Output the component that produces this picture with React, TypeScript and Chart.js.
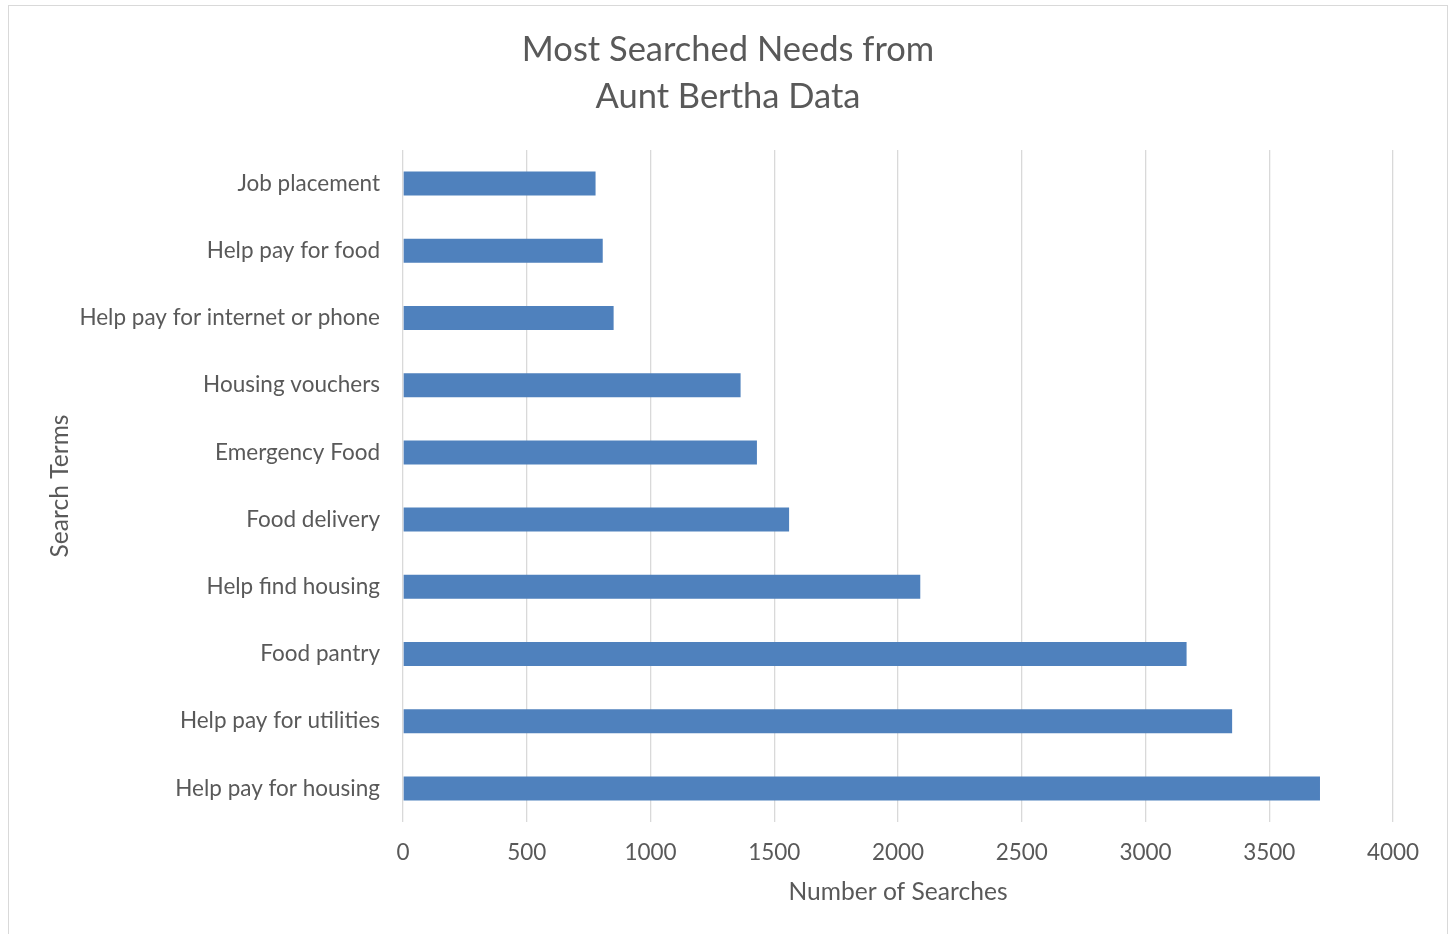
import React, { useEffect, useRef } from "react";
import { Chart, registerables } from "chart.js";

Chart.register(...registerables);

// ---- data ----
const categories = [
  "Job placement",
  "Help pay for food",
  "Help pay for internet or phone",
  "Housing vouchers",
  "Emergency Food",
  "Food delivery",
  "Help find housing",
  "Food pantry",
  "Help pay for utilities",
  "Help pay for housing",
];
const searchCounts = [778, 807, 851, 1364, 1430, 1560, 2090, 3166, 3350, 3705];
const xTickValues = [0, 500, 1000, 1500, 2000, 2500, 3000, 3500, 4000];
const titleLines = ["Most Searched Needs from", "Aunt Bertha Data"];
const xAxisTitle = "Number of Searches";
const yAxisTitle = "Search Terms";

const FONT = "Lato";
const TEXT = "#595959";
const GRID = "#d9d9d9";
const BAR = "#4f81bd";

const CANVAS_W = 1438;
const CANVAS_H = 928;

export default function App() {
  const ref = useRef<HTMLCanvasElement | null>(null);

  useEffect(() => {
    if (!ref.current) return;
    const chart = new Chart(ref.current, {
      type: "bar",
      data: {
        labels: categories,
        datasets: [
          {
            label: "Searches",
            data: searchCounts,
            backgroundColor: BAR,
            borderWidth: 0,
            categoryPercentage: 1,
            barPercentage: 0.357,
          },
        ],
      },
      options: {
        indexAxis: "y",
        animation: false,
        responsive: false,
        devicePixelRatio: 1,
        layout: { padding: { left: 0, right: 0, top: 0, bottom: 0 } },
        plugins: {
          legend: { display: false },
          tooltip: { enabled: false },
          title: {
            display: true,
            text: titleLines,
            color: TEXT,
            font: { family: FONT, size: 34.5, weight: "normal", lineHeight: 47 / 34.5 },
            padding: { top: 20, bottom: 30 },
          },
        },
        scales: {
          x: {
            type: "linear",
            position: "bottom",
            min: 0,
            max: 4000,
            afterBuildTicks: (scale: any) => {
              scale.ticks = xTickValues.map((v) => ({ value: v }));
            },
            ticks: {
              color: TEXT,
              font: { family: FONT, size: 22.5 },
              padding: 17.5,
              maxRotation: 0,
              callback: (v: any) => String(v),
            },
            grid: { color: GRID, lineWidth: 1.3, drawTicks: false },
            border: { display: false },
            title: {
              display: true,
              text: xAxisTitle,
              color: TEXT,
              font: { family: FONT, size: 24.6, lineHeight: 1.2 },
              padding: { top: 0, bottom: 27 },
            },
            afterFit: (scale: any) => {
              scale.height = 112;
            },
          },
          y: {
            position: "left",
            ticks: {
              color: TEXT,
              font: { family: FONT, size: 22.5 },
              padding: 23,
            },
            grid: { display: false, drawTicks: false },
            border: { display: false },
            title: {
              display: true,
              text: yAxisTitle,
              color: TEXT,
              font: { family: FONT, size: 24.6, lineHeight: 1.2 },
              padding: { top: 36, bottom: 0 },
            },
            afterFit: (scale: any) => {
              scale.width = 394;
            },
          },
          yRightSpace: {
            type: "category",
            position: "right",
            display: true,
            ticks: { display: false },
            grid: { display: false, drawTicks: false },
            border: { display: false },
            afterFit: (scale: any) => {
              scale.width = 54;
            },
          },
        },
      },
    });
    return () => chart.destroy();
  }, []);

  return (
    <div
      style={{
        position: "absolute",
        left: 8,
        top: 5,
        width: 1440,
        height: 929,
        boxSizing: "border-box",
        borderTop: "1px solid #d9d9d9",
        borderLeft: "1px solid #d9d9d9",
        borderRight: "1px solid #d9d9d9",
        background: "#ffffff",
      }}
    >
      <canvas
        ref={ref}
        width={CANVAS_W}
        height={CANVAS_H}
        style={{ display: "block", width: CANVAS_W, height: CANVAS_H }}
      />
    </div>
  );
}
